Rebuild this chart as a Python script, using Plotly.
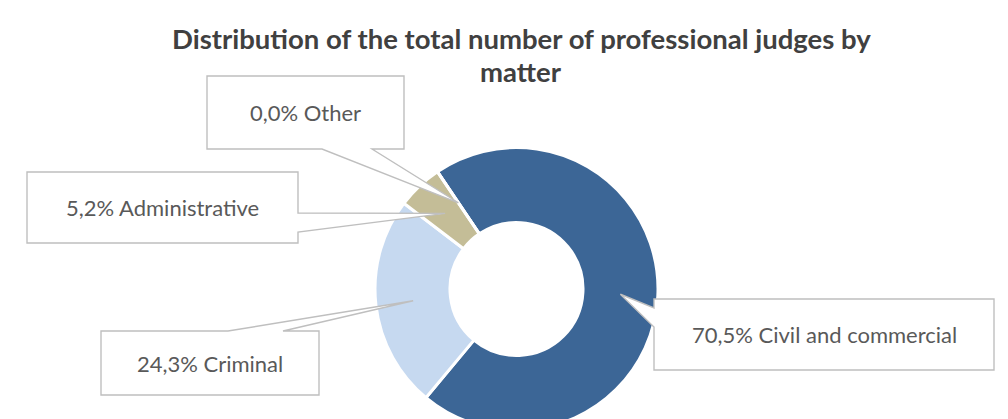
import math
import plotly.graph_objects as go

# ---------------- data ----------------
categories = ["Civil and commercial", "Criminal", "Administrative", "Other"]
shares = [70.5, 24.3, 5.2, 0.0]
label_texts = ["70,5% Civil and commercial", "24,3% Criminal", "5,2% Administrative", "0,0% Other"]
title_lines = ["Distribution of the total number of professional judges by", "matter"]

# ---------------- style / layout ----------------
slice_colors = ["#3C6696", "#C6D9F0", "#C4BD97", "#8064A2"]
W, H = 1008, 440
CX, CY, R, HOLE = 516.5, 289.0, 141.5, 0.47
START = -34  # degrees clockwise from 12 o'clock
FONT = "Lato"

# callout boxes in pixels: (x0, y0, x1, y1, side, base_a, base_b)
callouts = [
    (654, 299, 994, 370, "left", 308, 327),
    (101, 331, 319, 395, "top", 228, 283),
    (27, 172, 298, 243, "right", 213, 232),
    (207, 76, 404, 149, "bottom", 322, 372),
]


def fx(x):
    return x / W


def fy(y):
    return 1 - y / H


fig = go.Figure(
    go.Pie(
        labels=categories,
        values=shares,
        sort=False,
        direction="clockwise",
        rotation=START,
        hole=HOLE,
        marker=dict(colors=slice_colors, line=dict(color="white", width=3)),
        textinfo="none",
        hoverinfo="label+percent",
        showlegend=False,
        domain=dict(x=[fx(CX - R), fx(CX + R)], y=[fy(CY + R), fy(CY - R)]),
    )
)

# tips of callout pointers: middle of each slice, middle of the ring
total = sum(shares)
tips = []
acc = START
r_mid = (R + R * HOLE) / 2
for v in shares:
    span = v / total * 360
    mid = math.radians(acc + span / 2)
    tips.append((CX + r_mid * math.sin(mid), CY - r_mid * math.cos(mid)))
    acc += span


def callout_path(box, tip):
    x0, y0, x1, y1, side, a, b = box
    tx, ty = tip
    pts = [(x0, y0)]
    if side == "top":
        pts += [(a, y0), (tx, ty), (b, y0)]
    pts.append((x1, y0))
    if side == "right":
        pts += [(x1, a), (tx, ty), (x1, b)]
    pts.append((x1, y1))
    if side == "bottom":
        pts += [(b, y1), (tx, ty), (a, y1)]
    pts.append((x0, y1))
    if side == "left":
        pts += [(x0, b), (tx, ty), (x0, a)]
    d = "M " + " L ".join(f"{fx(px):.5f},{fy(py):.5f}" for px, py in pts) + " Z"
    return d


shapes = []
annotations = []
for box, tip, txt in zip(callouts, tips, label_texts):
    shapes.append(
        dict(
            type="path",
            path=callout_path(box, tip),
            xref="paper",
            yref="paper",
            fillcolor="white",
            line=dict(color="#BFBFBF", width=1.4),
            layer="above",
        )
    )
    x0, y0, x1, y1 = box[:4]
    annotations.append(
        dict(
            x=fx((x0 + x1) / 2),
            y=fy((y0 + y1) / 2),
            xref="paper",
            yref="paper",
            text=txt,
            showarrow=False,
            xanchor="center",
            yanchor="middle",
            font=dict(family=FONT, size=22, color="#595959"),
        )
    )

for line, ypix in zip(title_lines, [38, 72]):
    annotations.append(
        dict(
            x=fx(521),
            y=fy(ypix),
            xref="paper",
            yref="paper",
            text=f"<b>{line}</b>",
            showarrow=False,
            xanchor="center",
            yanchor="middle",
            font=dict(family=FONT, size=27.5, color="#404040"),
        )
    )

fig.update_layout(
    width=W,
    height=H,
    margin=dict(l=0, r=0, t=0, b=0),
    paper_bgcolor="white",
    plot_bgcolor="white",
    shapes=shapes,
    annotations=annotations,
    font=dict(family=FONT),
)

fig.write_html(
    "out.html",
    config={"displayModeBar": False},
    post_script="document.body.style.margin='0';document.body.style.overflow='hidden';",
)
